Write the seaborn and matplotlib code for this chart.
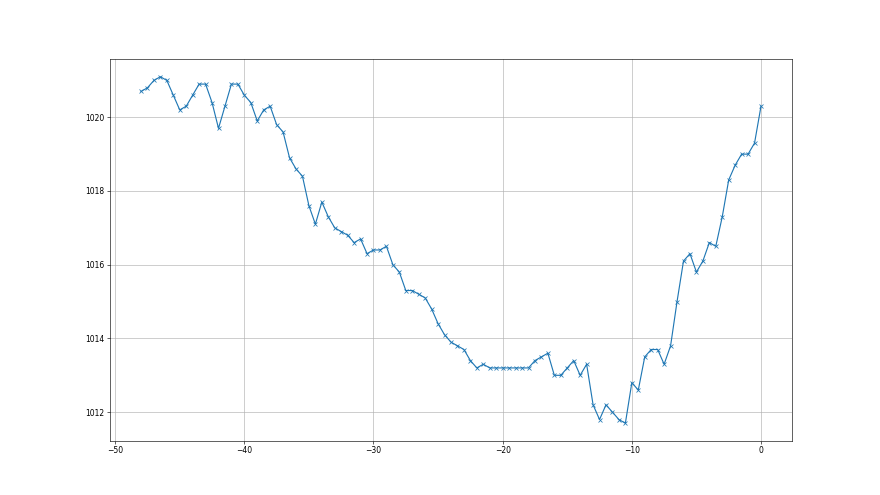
import numpy as np
import pandas as pd
import seaborn as sns
import matplotlib
matplotlib.use("Agg")
import matplotlib.pyplot as plt


# hours relative to now (half-hour steps)
hours = np.arange(-48, 0.5, 0.5)

# pressure readings (hPa)
pressure = [
    1020.7, 1020.8, 1021.0, 1021.1, 1021.0, 1020.6, 1020.2, 1020.3, 1020.6, 1020.9,
    1020.9, 1020.4, 1019.7, 1020.3, 1020.9, 1020.9, 1020.6, 1020.4, 1019.9, 1020.2,
    1020.3, 1019.8, 1019.6, 1018.9, 1018.6, 1018.4, 1017.6, 1017.1, 1017.7, 1017.3,
    1017.0, 1016.9, 1016.8, 1016.6, 1016.7, 1016.3, 1016.4, 1016.4, 1016.5, 1016.0,
    1015.8, 1015.3, 1015.3, 1015.2, 1015.1, 1014.8, 1014.4, 1014.1, 1013.9, 1013.8,
    1013.7, 1013.4, 1013.2, 1013.3, 1013.2, 1013.2, 1013.2, 1013.2, 1013.2, 1013.2,
    1013.2, 1013.4, 1013.5, 1013.6, 1013.0, 1013.0, 1013.2, 1013.4, 1013.0, 1013.3,
    1012.2, 1011.8, 1012.2, 1012.0, 1011.8, 1011.7, 1012.8, 1012.6, 1013.5, 1013.7,
    1013.7, 1013.3, 1013.8, 1015.0, 1016.1, 1016.3, 1015.8, 1016.1, 1016.6, 1016.5,
    1017.3, 1018.3, 1018.7, 1019.0, 1019.0, 1019.3, 1020.3,
]

df = pd.DataFrame({"hour": hours, "pressure": pressure})

fig, ax = plt.subplots(figsize=(16, 9), dpi=55)

sns.lineplot(data=df, x="hour", y="pressure", ax=ax, marker="x",
             color="C0", markeredgecolor="C0", markeredgewidth=1.0)

ax.set_yticks([1012, 1014, 1016, 1018, 1020])
ax.set_xlabel("")
ax.set_ylabel("")
ax.grid(True)

fig.savefig("out.png", dpi=55)
